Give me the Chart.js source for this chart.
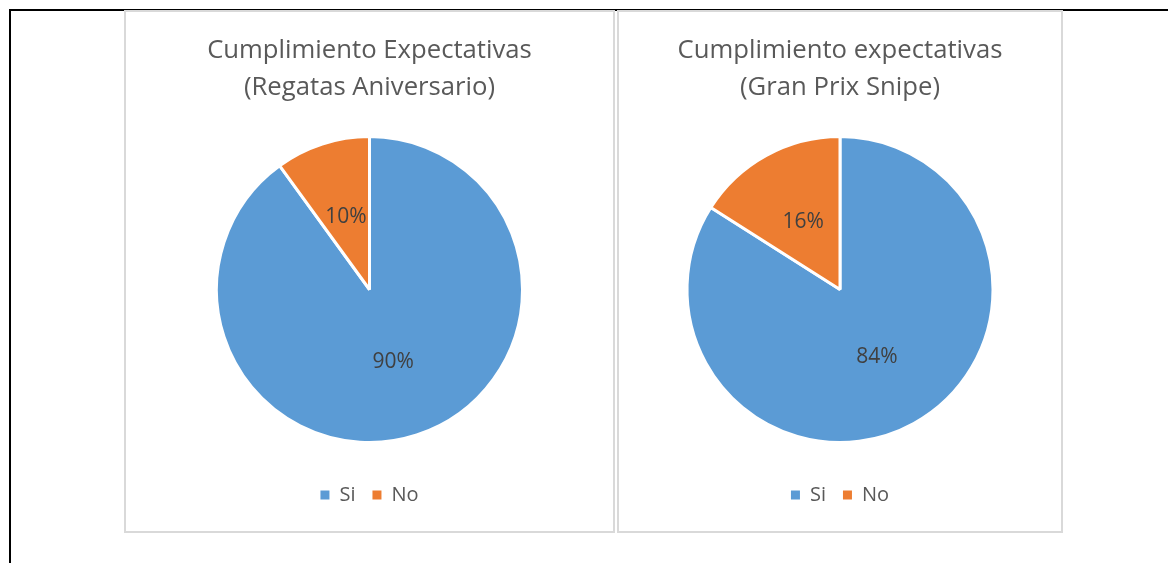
<!DOCTYPE html>
<html lang="es">
<head>
<meta charset="UTF-8">
<title>Cumplimiento expectativas</title>
<style>
  body { margin: 0; background: #fff; width: 1168px; height: 563px; position: relative; overflow: hidden; }
  #frameTop { position: absolute; left: 9px; top: 9px; width: 1159px; height: 2px; background: #000; }
  #frameLeft { position: absolute; left: 9px; top: 9px; width: 2px; height: 554px; background: #000; }
  .panel { position: absolute; top: 10px; height: 523px; box-sizing: border-box; border: 2px solid #d9d9d9; }
  .panel canvas { position: absolute; left: -2px; top: -2px; }
</style>
</head>
<body>
<div id="frameTop"></div>
<div id="frameLeft"></div>
<div class="panel" style="left:124px;width:491px"><canvas id="chart1"></canvas></div>
<div class="panel" style="left:617px;width:446px"><canvas id="chart2"></canvas></div>

<script src="https://cdn.jsdelivr.net/npm/chart.js"></script>
<script>
  const categories = ['Si', 'No'];
  const regatasValues = [90, 10];
  const snipeValues = [84, 16];
  const titleRegatas = ['Cumplimiento Expectativas', '(Regatas Aniversario)'];
  const titleSnipe = ['Cumplimiento expectativas', '(Gran Prix Snipe)'];
  const colors = ['#5B9BD5', '#ED7D31'];

  // percentage labels in the middle of each slice
  const pctLabels = {
    id: 'pctLabels',
    afterDatasetsDraw(chart) {
      const ctx = chart.ctx;
      const meta = chart.getDatasetMeta(0);
      const vals = chart.data.datasets[0].data;
      const total = vals.reduce((a, b) => a + b, 0);
      ctx.save();
      ctx.font = '21px "Open Sans"';
      ctx.fillStyle = '#404040';
      ctx.textAlign = 'center';
      ctx.textBaseline = 'middle';
      meta.data.forEach((arc, i) => {
        const p = arc.getCenterPoint();
        ctx.fillText(Math.round(vals[i] / total * 100) + '%', p.x, p.y);
      });
      ctx.restore();
    }
  };

  function makePie(id, w, title, values) {
    const canvas = document.getElementById(id);
    canvas.width = w;
    canvas.height = 523;
    canvas.style.width = w + 'px';
    canvas.style.height = '523px';
    return new Chart(canvas, {
      type: 'pie',
      data: {
        labels: categories,
        datasets: [{
          data: values,
          backgroundColor: colors,
          borderColor: '#ffffff',
          borderWidth: 3,
          radius: 153
        }]
      },
      options: {
        responsive: false,
        animation: false,
        events: [],
        layout: { padding: { top: 0, left: 0, right: 0, bottom: 18 } },
        plugins: {
          title: {
            display: true,
            text: title,
            color: '#595959',
            font: { family: '"Open Sans"', size: 25.7, weight: 'normal', lineHeight: 37 / 25.7 },
            padding: { top: 22, bottom: 5 }
          },
          legend: {
            position: 'bottom',
            labels: {
              boxWidth: 9,
              boxHeight: 9,
              padding: 17,
              color: '#595959',
              font: { family: '"Open Sans"', size: 20 },
              generateLabels: (chart) => chart.data.labels.map((t, i) => ({
                text: t,
                fillStyle: colors[i],
                strokeStyle: colors[i],
                lineWidth: 0,
                fontColor: '#595959',
                hidden: false,
                index: i
              }))
            }
          },
          tooltip: { enabled: false }
        }
      },
      plugins: [pctLabels]
    });
  }

  makePie('chart1', 491, titleRegatas, regatasValues);
  makePie('chart2', 446, titleSnipe, snipeValues);
</script>
</body>
</html>
